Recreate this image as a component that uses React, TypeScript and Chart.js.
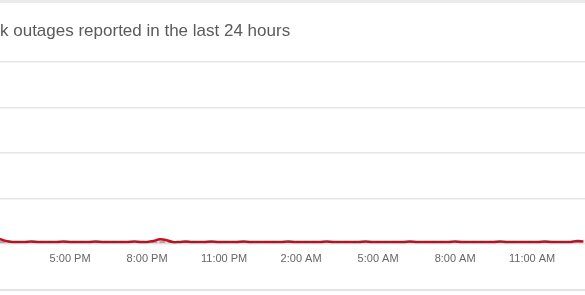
import React, { useEffect, useRef } from "react";
import { Chart, registerables } from "chart.js";

Chart.register(...registerables);

const titleText = "k outages reported in the last 24 hours";

// 15-minute intervals, first point at 13:15 (hours since previous midnight)
const startHour = 13.25;
const stepHours = 0.25;

const reports = [
  2, 2, 1, 2, 2.5, 1.5, 1, 1, 1, 1.2, 1, 1, 1, 1, 1.2, 1,
  1, 1, 1, 1.2, 1, 1, 1, 1, 1, 1.2, 1, 1, 1.5, 2.5, 2, 1,
  1, 1.3, 1, 1, 1, 1.2, 1, 1, 1, 1, 1.2, 1, 1, 1, 1, 1,
  1, 1.2, 1, 1, 1, 1, 1, 1.2, 1, 1, 1, 1, 1, 1.2, 1, 1,
  1, 1, 1, 1, 1.2, 1, 1, 1, 1, 1, 1, 1.2, 1, 1, 1, 1,
  1, 1, 1.2, 1, 1, 1, 1, 1, 1, 1.2, 1, 1, 1, 1, 1.5, 1.2,
];

const baseline = [
  1, 1, 1, 1, 1, 1, 1, 1, 1, 1, 1, 1, 1, 1, 1, 1,
  1, 1, 1, 1, 1, 1, 1, 1, 1, 1, 1, 1, 1, 1, 1, 1,
  1, 1, 1, 1, 1, 1, 1, 1, 1, 1, 1, 1, 1, 1, 1, 1,
  1, 1, 1, 1, 1, 1, 1, 1, 1, 1, 1, 1, 1, 1, 1, 1,
  1, 1, 1, 1, 1, 1, 1, 1, 1, 1, 1, 1, 1, 1, 1, 1,
  1, 1, 1, 1, 1, 1, 1, 1, 1, 1, 1, 1, 1, 1, 1, 1,
];

const tickHours = [17, 20, 23, 26, 29, 32, 35];
const tickLabels = ["5:00 PM", "8:00 PM", "11:00 PM", "2:00 AM", "5:00 AM", "8:00 AM", "11:00 AM"];

const visibleMin = 14.27;
const visibleMax = 37.06;
const yMax = 100;
const yStep = 25;

const FONT = "Arial, 'Liberation Sans', sans-serif";

export default function App() {
  const canvasRef = useRef<HTMLCanvasElement | null>(null);

  useEffect(() => {
    const canvas = canvasRef.current;
    if (!canvas) return;
    const toPoints = (arr: number[]) =>
      arr.map((v, i) => ({ x: startHour + i * stepHours, y: v }));

    const chart = new Chart(canvas, {
      type: "line",
      data: {
        datasets: [
          {
            label: "Baseline",
            data: toPoints(baseline),
            borderColor: "rgba(60,60,60,0.7)",
            borderWidth: 1.2,
            borderDash: [6, 2],
            pointRadius: 0,
            tension: 0.4,
            fill: false,
          },
          {
            label: "Reports",
            data: toPoints(reports),
            borderColor: "#c8101e",
            backgroundColor: "rgba(208,2,27,0.12)",
            borderWidth: 2.5,
            pointRadius: 0,
            tension: 0.4,
            fill: "origin",
          },
        ],
      },
      options: {
        responsive: false,
        animation: false,
        layout: { padding: { top: 0, bottom: 20, left: 0, right: 0 } },
        plugins: {
          legend: { display: false },
          tooltip: { enabled: false },
          title: {
            display: true,
            text: titleText,
            align: "start",
            color: "#5a5a5a",
            font: { family: FONT, size: 17, weight: "normal", lineHeight: 1.2 },
            padding: { top: 21.5, bottom: 20.1 },
          },
        },
        scales: {
          x: {
            type: "linear",
            min: visibleMin,
            max: visibleMax,
            grid: { display: false, drawTicks: false },
            border: { display: false },
            afterBuildTicks: (scale: any) => {
              scale.ticks = tickHours.map((v) => ({ value: v }));
            },
            ticks: {
              autoSkip: false,
              maxRotation: 0,
              color: "#666",
              padding: 9,
              font: { family: FONT, size: 11 },
              callback: (value: any) => {
                const i = tickHours.indexOf(Number(value));
                return i >= 0 ? tickLabels[i] : "";
              },
            },
          },
          y: {
            min: 0,
            max: yMax,
            grid: { color: "#e6e6e6", lineWidth: 1.5, drawTicks: false },
            border: { display: false },
            ticks: { display: false, stepSize: yStep },
          },
        },
      },
    });
    return () => chart.destroy();
  }, []);

  return (
    <div
      style={{
        position: "fixed",
        left: 0,
        top: 0,
        width: 585,
        height: 295,
        background: "#fff",
        overflow: "hidden",
      }}
    >
      <canvas ref={canvasRef} width={585} height={295} style={{ position: "absolute", left: 0, top: 0 }} />
      <div style={{ position: "absolute", left: 0, top: 0, width: 585, height: 3, background: "#ebebeb" }} />
      <div style={{ position: "absolute", left: 0, top: 289, width: 585, height: 2, background: "#e3e3e3" }} />
    </div>
  );
}
